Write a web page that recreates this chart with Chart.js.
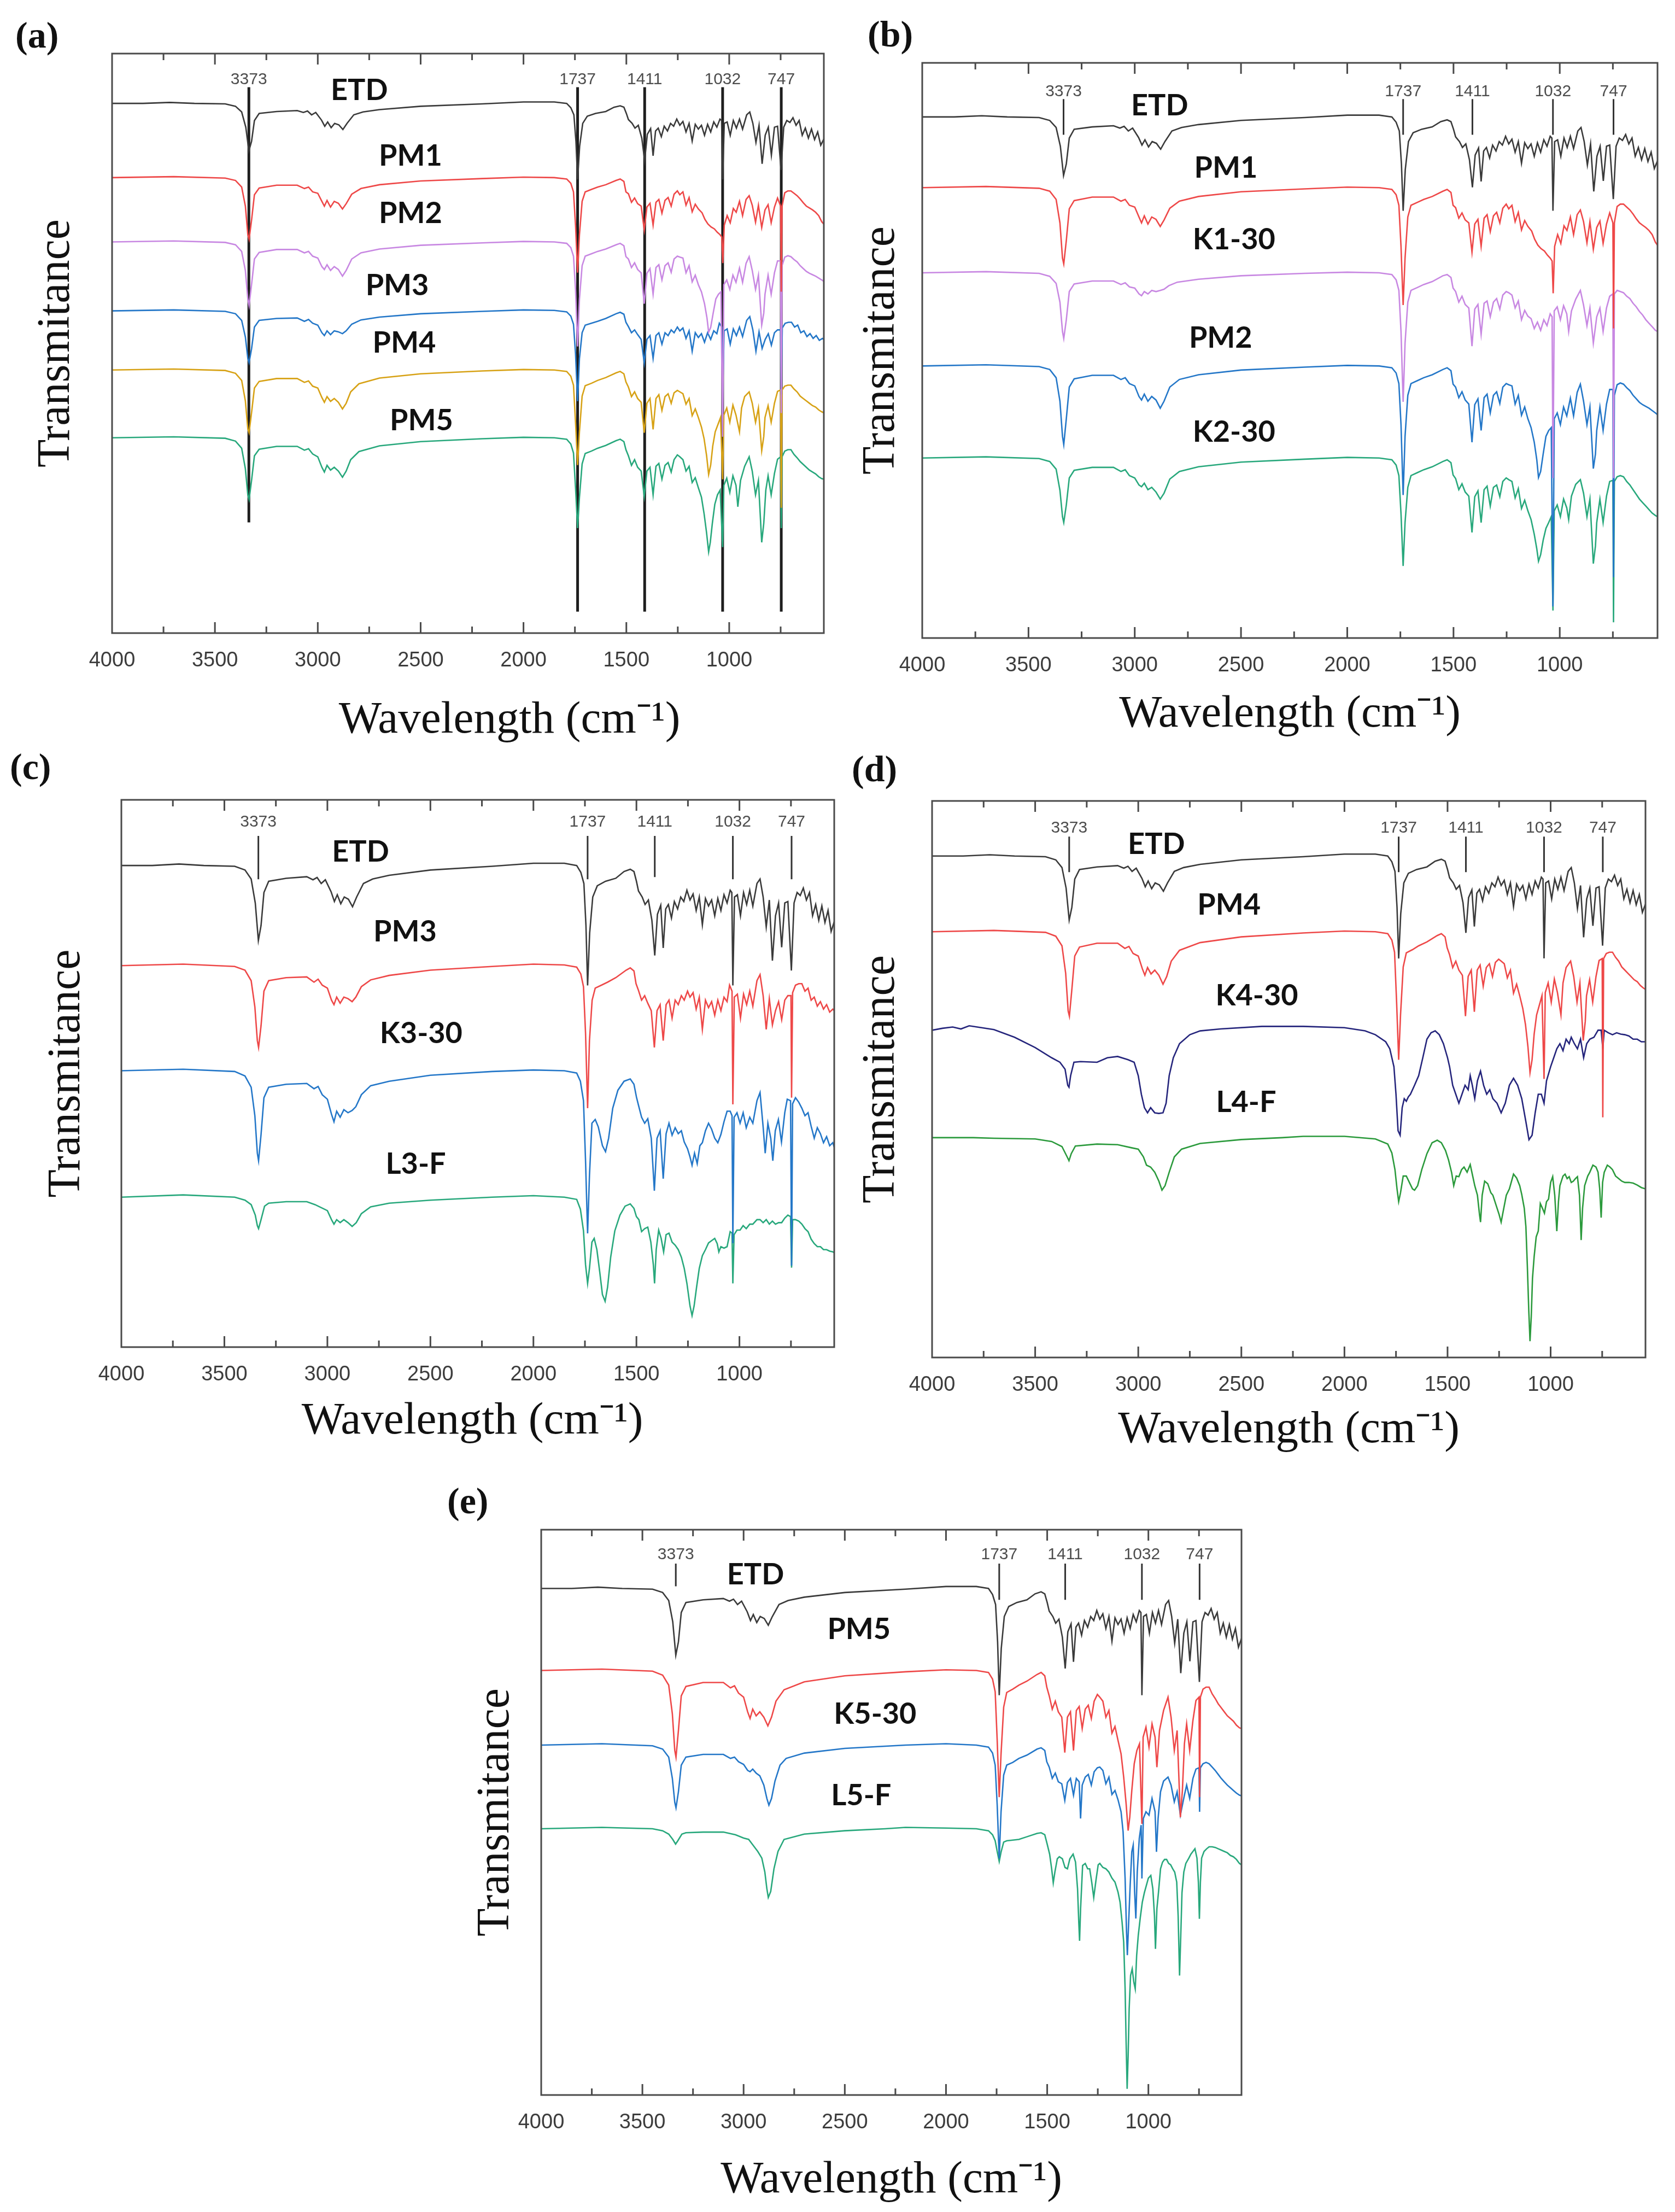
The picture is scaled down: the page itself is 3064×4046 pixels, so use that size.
<!DOCTYPE html>
<html><head><meta charset="utf-8">
<script src="https://cdn.jsdelivr.net/npm/chart.js@4.4.1/dist/chart.umd.min.js"></script>
<style>
html,body{margin:0;padding:0;background:#fff;}
body{width:3064px;height:4046px;position:relative;overflow:hidden;}
canvas{position:absolute;}
.plab{position:absolute;font:bold 68px "Liberation Serif",serif;color:#111;line-height:1;}
</style></head><body>
<div class="plab" style="left:28px;top:30px">(a)</div>
<div class="plab" style="left:1587px;top:28px">(b)</div>
<div class="plab" style="left:18px;top:1368px">(c)</div>
<div class="plab" style="left:1558px;top:1372px">(d)</div>
<div class="plab" style="left:818px;top:2711px">(e)</div>
<canvas id="ca"></canvas><canvas id="cb"></canvas><canvas id="cc"></canvas><canvas id="cd"></canvas><canvas id="ce"></canvas>
<script>
// ---------- axis values ----------
const xLabelTicks = [4000,3500,3000,2500,2000,1500,1000];
const majorTicks = [3500,3000,2500,2000,1500,1000];
const minorTicks = [3750,3250,2750,2250,1750,1250,750];
const markerWn = [3335,1737,1411,1032,747];
const markerText = ['3373','1737','1411','1032','747'];

// ---------- spectra: [wavenumber, depth below own baseline] ----------
const ETD = [[4000,0],[3850,0],[3720,-0.2],[3600,0],[3450,0.1],[3400,0.6],[3370,1.8],[3350,5],[3335,10],[3322,8],[3308,3.6],[3285,2.1],[3200,1.7],[3100,1.5],[3070,1.9],[3050,1.6],[3030,2.4],[3010,1.9],[2982,3.5],[2966,4.8],[2952,3.9],[2935,5.1],[2918,4.2],[2898,4.5],[2878,5.5],[2858,4.2],[2825,2.4],[2780,1.8],[2700,1.3],[2500,0.6],[2200,0.1],[2000,-0.3],[1850,-0.3],[1790,0],[1770,0.9],[1755,2.4],[1745,8],[1737,16],[1727,9],[1712,4.2],[1690,2.7],[1650,2.1],[1600,1.7],[1560,0.8],[1530,0.5],[1512,0.8],[1500,2.1],[1490,3.4],[1472,4.2],[1458,5.2],[1442,4.6],[1425,7.3],[1411,12],[1398,6.5],[1382,5.3],[1370,11],[1358,5.8],[1345,5.2],[1330,7],[1316,4.8],[1300,5.8],[1285,4.2],[1270,4.8],[1255,3.3],[1240,4.6],[1225,3.8],[1210,6],[1195,4.2],[1180,7.9],[1165,4.4],[1150,5.4],[1135,4.6],[1120,6.7],[1105,4.4],[1090,6],[1075,3.9],[1060,5],[1045,3.3],[1037,3.6],[1032,16],[1024,4.2],[1010,3.9],[995,6.7],[980,3.6],[965,5.2],[950,3.3],[935,5.4],[915,2.4],[900,1.8],[885,4.2],[870,8.2],[855,4.6],[840,12.7],[825,6.7],[810,5],[795,10.9],[780,5],[765,4.8],[748,14],[735,5],[720,3.6],[705,4],[690,3],[675,4.6],[660,3.6],[645,6.7],[630,5.2],[615,7.3],[600,5.4],[585,7.6],[570,6],[555,8.8],[540,7.5]];

const PM1 = [[4000,0],[3700,-0.2],[3450,0.1],[3400,0.6],[3370,2],[3352,6],[3340,12],[3334,13],[3322,9],[3308,3.6],[3285,2.2],[3200,1.6],[3100,1.6],[3065,2.3],[3045,2],[3025,3],[3000,3.3],[2980,5],[2968,6],[2955,4.8],[2938,6.2],[2920,5],[2900,5.4],[2880,6.6],[2862,5.5],[2835,3.5],[2790,2.3],[2700,1.5],[2500,0.7],[2200,0.2],[2000,-0.1],[1850,0],[1790,0.3],[1770,1.2],[1757,3],[1747,10],[1737,20],[1728,12],[1715,5],[1700,3],[1670,2.5],[1640,2],[1600,1.5],[1550,0.6],[1530,0.3],[1512,0.8],[1502,3],[1490,3.4],[1475,5.2],[1460,4.3],[1445,5.5],[1428,6],[1413,11],[1400,6.2],[1385,5.4],[1370,10],[1356,5.2],[1342,4.6],[1327,7.5],[1312,4.8],[1297,4.2],[1282,6],[1268,3.5],[1252,2.8],[1240,3.6],[1225,3],[1210,5.8],[1195,4.2],[1180,7.2],[1165,5.6],[1150,6.6],[1132,7.4],[1118,8.8],[1103,9.8],[1088,10.4],[1072,10.8],[1058,11.5],[1045,12],[1036,12.5],[1031,18],[1024,10],[1010,8],[995,9.5],[980,6.5],[966,7.3],[950,5],[935,8],[918,4.6],[903,3.8],[888,5.8],[872,9.4],[858,5.8],[842,10.5],[826,6.8],[811,5.7],[796,9.5],[780,6.2],[765,4.3],[750,6],[747,24],[743,6],[730,3.2],[715,2.8],[700,2.8],[685,3.3],[670,3.8],[655,4.5],[640,5.3],[625,6],[610,6.4],[595,6.8],[580,7.3],[565,8],[550,9.3],[540,9.8]];

const PM2 = [[4000,0],[3700,-0.2],[3450,0.1],[3400,0.6],[3370,2],[3352,6],[3340,12],[3334,13.4],[3322,9],[3308,3.6],[3285,2.2],[3200,1.6],[3100,1.6],[3065,2.3],[3045,2],[3025,3],[3000,3.4],[2980,5.2],[2968,5.8],[2955,4.8],[2938,6],[2920,5.2],[2900,5.8],[2880,7.2],[2862,6],[2835,3.6],[2790,2.3],[2700,1.5],[2500,0.7],[2200,0.2],[2000,-0.1],[1850,0],[1790,0.3],[1770,1.2],[1757,3],[1747,10],[1737,22],[1728,12],[1715,5],[1700,3],[1670,2.5],[1640,2],[1600,1.5],[1550,0.6],[1530,0.3],[1512,0.8],[1502,3.1],[1490,3.6],[1475,5.4],[1460,4.4],[1445,5.8],[1428,6.5],[1413,13],[1400,6.6],[1385,5.6],[1370,11],[1356,5.4],[1342,4.8],[1327,8],[1312,5],[1297,4.4],[1282,6.4],[1268,3.6],[1252,3],[1240,3.2],[1225,3.4],[1210,6.5],[1195,5],[1180,8.4],[1165,7],[1150,9],[1135,10.5],[1120,13],[1108,16],[1100,19],[1090,18],[1078,15],[1065,12],[1052,11],[1040,10.5],[1032,41],[1026,9],[1012,8],[997,10],[982,7],[967,8.5],[950,5.5],[935,8.5],[918,4.5],[903,3.1],[888,6],[872,10],[858,7],[842,17.5],[832,15],[826,11],[811,7],[796,11],[780,6.5],[765,4],[750,4],[747,36],[743,5],[730,3.2],[715,2.9],[700,3.1],[685,3.7],[670,4.2],[655,5],[640,5.6],[625,6.2],[610,6.6],[595,6.9],[580,7.2],[565,7.6],[550,8],[540,8.3]];

const PM3 = [[4000,0],[3700,-0.2],[3450,0.1],[3400,0.6],[3370,2],[3352,5.5],[3340,10],[3334,10.9],[3322,8],[3308,3.4],[3285,2],[3200,1.6],[3100,1.5],[3065,2.2],[3045,1.8],[3025,2.6],[3000,3],[2980,4.6],[2968,5.2],[2955,4.2],[2938,5],[2920,4.2],[2900,4.4],[2880,4.8],[2862,4.2],[2835,2.8],[2790,1.9],[2700,1.3],[2500,0.6],[2200,0.1],[2000,-0.2],[1850,-0.1],[1790,0.2],[1770,1.1],[1757,2.8],[1747,9],[1737,19],[1728,10],[1715,4.6],[1700,3],[1670,2.6],[1640,2.2],[1600,1.6],[1550,0.6],[1530,0.3],[1512,0.7],[1502,2.4],[1490,3.3],[1475,4.6],[1460,4],[1445,5],[1428,6],[1413,10.9],[1400,6],[1385,5.2],[1370,10],[1356,5.2],[1342,4.6],[1327,7],[1312,4.6],[1297,5.2],[1282,4],[1268,4.6],[1252,3.4],[1240,4.2],[1225,3.6],[1210,5.8],[1195,4.2],[1180,8.5],[1165,4.6],[1150,5.6],[1135,4.8],[1120,6.6],[1105,4.6],[1090,6],[1075,4.2],[1060,4.8],[1048,2.6],[1036,3.4],[1032,18.5],[1025,4.2],[1010,3.8],[995,7],[980,3.8],[965,5.2],[950,3.4],[935,5.4],[915,2],[900,1.2],[885,4],[870,8.5],[855,4.4],[840,7.9],[825,6],[810,4.8],[795,7.2],[780,4.6],[765,4],[750,4],[747,17.6],[742,3.6],[728,2.6],[712,2.4],[697,2.4],[682,3.4],[667,3],[652,4.6],[637,4.2],[622,5.4],[607,4.8],[592,5.8],[577,5.2],[562,6.2],[547,5.8],[540,6]];

const PM4 = [[4000,0],[3700,-0.2],[3450,0.1],[3400,0.7],[3370,2.2],[3352,6.5],[3340,12.4],[3334,13.2],[3322,9],[3308,3.8],[3285,2.4],[3200,1.8],[3100,1.8],[3065,2.6],[3045,2.3],[3025,3.4],[3000,3.8],[2980,5.8],[2968,6.8],[2955,5.6],[2938,6.6],[2920,6],[2900,6.8],[2880,8.2],[2862,7],[2840,4.6],[2800,2.9],[2700,1.7],[2500,0.8],[2200,0.2],[2000,-0.1],[1850,0],[1790,0.3],[1770,1.3],[1757,3.2],[1747,11],[1737,20],[1728,13],[1715,5.5],[1700,3.3],[1670,2.8],[1640,2.2],[1600,1.6],[1550,0.6],[1530,0.3],[1512,0.8],[1502,2.5],[1490,3.6],[1475,5.6],[1460,4.6],[1445,6],[1428,6.8],[1413,13.2],[1400,7],[1385,6],[1370,12.5],[1356,6],[1342,5.2],[1327,8.5],[1312,5.6],[1297,5],[1282,7],[1268,4.8],[1252,4.3],[1240,4.6],[1225,5],[1210,7.2],[1195,6],[1180,9.6],[1165,8.2],[1150,10],[1135,12],[1122,14.5],[1110,18],[1100,22],[1090,20],[1080,16],[1068,13],[1055,11.5],[1042,10],[1032,23],[1026,9.5],[1012,8],[997,11],[982,7.4],[967,9.5],[950,13],[940,8],[925,5.6],[903,4.6],[888,7],[872,11],[858,8],[842,17],[832,14],[826,10],[811,7.5],[796,11],[780,7],[765,4.5],[750,4.2],[747,29],[743,4.2],[730,3.4],[715,3.2],[700,3.2],[685,4],[670,4.6],[655,5.5],[640,6],[625,6.5],[610,7],[595,7.5],[580,7.8],[565,8.4],[550,8.8],[540,9]];

const PM5 = [[4000,0],[3700,-0.2],[3450,0.1],[3400,0.7],[3370,2.2],[3352,6.5],[3340,12],[3334,13],[3322,9],[3308,3.8],[3285,2.4],[3200,1.8],[3100,1.8],[3065,2.6],[3045,2.3],[3025,3.4],[3000,4],[2980,6.2],[2968,7.2],[2955,5.8],[2938,6.8],[2920,6.2],[2900,7],[2880,8.3],[2862,7],[2840,4.6],[2800,2.9],[2700,1.7],[2500,0.8],[2200,0.2],[2000,-0.1],[1850,0],[1790,0.3],[1770,1.3],[1757,3.2],[1747,10.5],[1737,19],[1728,12.5],[1715,5.5],[1700,3.3],[1670,2.8],[1640,2.2],[1600,1.6],[1550,0.6],[1530,0.3],[1512,0.8],[1502,2.5],[1490,3.8],[1475,5.8],[1460,4.6],[1445,6.2],[1428,7],[1413,12.3],[1400,7],[1385,6.2],[1370,12],[1356,6],[1342,5.4],[1327,8.7],[1312,5.8],[1297,5.2],[1282,7.2],[1268,4.6],[1252,3.6],[1240,4],[1225,4.6],[1210,7],[1195,6],[1180,9.4],[1165,8.4],[1150,10.5],[1135,12.5],[1122,16],[1110,20],[1100,24],[1092,22],[1082,18],[1070,14],[1057,12],[1044,11],[1032,23],[1026,10],[1012,8.5],[997,11.5],[982,8],[967,10],[958,14.5],[945,9],[925,6],[903,4],[888,7],[872,12],[858,9],[842,22],[832,18],[822,11],[811,8],[796,12],[780,7.5],[765,4.5],[750,4],[747,19],[743,4],[730,2.8],[715,2.5],[700,2.5],[685,3.5],[670,4.2],[655,5],[640,5.6],[625,6.2],[610,6.8],[595,7.2],[580,7.6],[565,8.2],[550,8.6],[540,8.7]];

const K1_30 = [[4000,0],[3700,-0.2],[3450,0.1],[3400,0.6],[3370,1.8],[3352,5],[3340,10],[3334,11.2],[3322,8],[3308,3.2],[3285,1.9],[3200,1.4],[3100,1.4],[3065,2],[3045,1.7],[3025,2.4],[3000,2.6],[2980,3.6],[2968,3.9],[2955,3.2],[2938,3.6],[2920,3],[2900,3.2],[2880,3],[2862,2.8],[2840,2.2],[2800,1.6],[2700,1.1],[2500,0.5],[2200,0.1],[2000,-0.1],[1850,0],[1790,0.3],[1770,1.2],[1757,3],[1747,10],[1737,22],[1728,12],[1715,5],[1700,3],[1670,2.5],[1640,2],[1600,1.5],[1550,0.5],[1530,0.3],[1512,0.8],[1502,2.6],[1490,3.2],[1475,5],[1460,4],[1445,5.4],[1428,6],[1413,12.5],[1400,6.2],[1385,5.4],[1370,10.5],[1356,5.2],[1342,4.8],[1327,7.5],[1312,5],[1297,4.4],[1282,6.2],[1268,3.8],[1252,3.2],[1240,3.4],[1225,3.8],[1210,6],[1195,4.8],[1180,8],[1165,6.4],[1150,7.4],[1135,7.8],[1120,9.5],[1105,8.4],[1090,9.8],[1075,8],[1060,9],[1045,7],[1036,7.5],[1032,35],[1026,6.5],[1012,5.8],[997,8],[982,5.6],[967,7],[958,10],[945,6.5],[925,4.5],[903,3],[888,5.5],[872,9],[858,6],[842,12],[826,7.5],[811,6],[796,10],[780,6],[765,4],[750,3.6],[747,35],[743,3.6],[730,3],[715,3.2],[700,3.4],[685,4],[670,4.4],[655,5.2],[640,5.8],[625,6.6],[610,7.2],[595,8],[580,8.6],[565,9.2],[550,9.8],[540,10]];

const K2_30 = [[4000,0],[3700,-0.2],[3450,0.1],[3400,0.6],[3370,1.9],[3352,5.5],[3340,10],[3334,11],[3322,8],[3308,3.4],[3285,2.1],[3200,1.6],[3100,1.6],[3065,2.3],[3045,2],[3025,3],[3000,3.4],[2980,4.6],[2968,4.9],[2955,4.3],[2938,5.4],[2920,5],[2900,5.8],[2880,7],[2862,6],[2835,3.6],[2790,2.3],[2700,1.5],[2500,0.7],[2200,0.2],[2000,-0.1],[1850,0],[1790,0.3],[1770,1.2],[1757,3],[1747,9.5],[1737,18.4],[1728,11],[1715,5],[1700,3],[1670,2.5],[1640,2],[1600,1.5],[1550,0.6],[1530,0.3],[1512,0.8],[1502,2.9],[1490,3.5],[1475,5.4],[1460,4.4],[1445,5.8],[1428,6.5],[1413,12.7],[1400,6.6],[1385,5.6],[1370,11],[1356,5.4],[1342,4.8],[1327,8.2],[1312,5],[1297,4.6],[1282,6.6],[1268,4],[1252,3.4],[1240,3.7],[1225,4],[1210,6.8],[1195,5.2],[1180,8.6],[1165,7.2],[1150,9],[1135,10.5],[1120,13],[1108,15.5],[1100,17.6],[1090,16.5],[1078,14],[1065,12],[1052,11],[1040,10],[1032,26],[1026,9],[1012,8],[997,10],[982,7],[967,8.5],[958,10.5],[945,6.5],[925,4.5],[903,3.7],[888,6],[872,10],[858,7],[842,18],[832,15],[826,11],[811,7],[796,11],[780,6.5],[765,4],[750,3.8],[747,28],[743,4],[730,3.2],[715,3],[700,3.2],[685,4],[670,4.6],[655,5.4],[640,6.2],[625,7],[610,7.6],[595,8.2],[580,8.8],[565,9.4],[550,9.8],[540,10]];

const K3_30 = [[4000,0],[3700,-0.2],[3450,0.1],[3400,0.7],[3370,2.2],[3352,6],[3340,11],[3334,12],[3322,8.5],[3308,3.6],[3285,2.2],[3200,1.8],[3100,1.7],[3065,2.4],[3045,2.1],[3025,3.2],[3000,3.8],[2980,5.8],[2968,6.8],[2955,5.4],[2938,6.2],[2920,5.2],[2900,5.6],[2880,5.3],[2862,4.8],[2835,3.2],[2790,2],[2700,1.4],[2500,0.6],[2200,0.1],[2000,-0.1],[1850,0],[1790,0.3],[1772,1.4],[1757,4],[1747,12],[1737,21.7],[1728,14],[1716,7],[1700,6.5],[1685,7.5],[1665,10],[1650,10.8],[1635,9],[1615,5],[1590,2.6],[1560,1.4],[1530,1.1],[1512,1.8],[1500,3.5],[1490,4.6],[1475,6.2],[1460,7],[1445,6.4],[1428,9],[1413,16],[1400,9],[1385,8],[1370,14.4],[1356,8.4],[1342,7],[1327,8.6],[1312,7.6],[1297,8.4],[1282,8],[1268,9.5],[1252,10.4],[1240,11.5],[1230,12.6],[1218,11],[1205,12.4],[1192,10],[1180,9.6],[1165,8],[1150,7],[1135,7.8],[1120,9],[1105,9.6],[1090,8.5],[1075,6.8],[1060,5.4],[1045,5.4],[1036,6],[1032,23],[1026,6.2],[1012,5.6],[997,7],[982,5.6],[967,7.6],[950,6.2],[935,7],[915,4],[900,2.9],[885,7.5],[875,11],[862,7],[848,9],[838,12],[826,8],[811,6.5],[796,9.5],[780,5.6],[768,3.8],[752,4],[747,26],[742,4.4],[728,3.6],[712,4.2],[697,5],[682,6],[667,5.6],[652,7.4],[637,9],[622,7.6],[607,8.4],[592,9.6],[577,8.8],[562,10],[547,9.6],[540,10.2]];

const L3_F = [[4000,0],[3700,-0.3],[3450,0],[3400,0.4],[3370,1],[3350,2.4],[3340,3.8],[3334,4.2],[3322,3],[3305,1.2],[3285,0.8],[3200,0.6],[3100,0.6],[3060,1],[3030,1.4],[3000,1.8],[2980,3],[2968,3.6],[2955,3],[2938,3.4],[2920,3],[2900,3.4],[2880,3.9],[2860,3.4],[2835,2.2],[2790,1.3],[2700,0.8],[2500,0.4],[2200,0],[2000,-0.2],[1850,0],[1790,0.3],[1772,1.6],[1757,4.5],[1747,9],[1737,11.5],[1728,9.5],[1716,6],[1705,5.5],[1692,7],[1678,10],[1665,13],[1652,13.9],[1640,12],[1625,8],[1605,4.5],[1580,2.4],[1555,1.2],[1530,0.9],[1512,1.5],[1500,2.6],[1488,3],[1475,4.6],[1460,4.2],[1445,4],[1430,6],[1418,9],[1412,11.5],[1404,7],[1392,4.4],[1380,5.5],[1368,7.3],[1356,5],[1342,4.8],[1327,6],[1312,6.4],[1297,7],[1282,8],[1268,9.5],[1255,11.5],[1240,14.5],[1230,15.8],[1220,14.5],[1208,12],[1195,9.5],[1180,7.8],[1165,7],[1150,6.1],[1135,5.8],[1120,5.5],[1108,6.2],[1100,7.3],[1090,6.6],[1075,6.8],[1060,6.6],[1045,4.6],[1036,4.8],[1032,11.5],[1026,5],[1012,4.4],[997,4.4],[982,3.8],[967,4.2],[950,3.6],[935,3.6],[915,3],[900,3],[885,3.4],[870,3],[855,3.6],[840,3.2],[825,3.6],[810,3.4],[795,3.4],[780,2.8],[765,2.4],[752,2.6],[747,9.4],[742,3],[728,3],[712,3.2],[697,3.6],[682,4.2],[667,4.6],[652,5.6],[637,6.2],[622,6.6],[607,6.6],[592,7],[577,7],[562,7.2],[547,7.3],[540,7.4]];

const K4_30 = [[4000,0],[3950,-0.3],[3900,-0.5],[3860,-0.2],[3820,-0.7],[3760,-0.4],[3700,-0.1],[3600,1.1],[3500,2.7],[3420,4.3],[3380,5],[3355,6.1],[3342,8.6],[3336,8.9],[3328,7.1],[3312,5],[3280,4.9],[3200,5],[3150,4.3],[3100,4.1],[3050,4.6],[3020,5],[3000,7.1],[2985,10],[2970,12.1],[2955,12.9],[2940,12.1],[2920,12.9],[2900,13],[2880,12.9],[2865,11.4],[2850,7.1],[2830,4.3],[2800,2.1],[2750,0.7],[2700,0.1],[2600,-0.2],[2400,-0.6],[2200,-0.6],[2000,-0.4],[1900,0.1],[1850,0.7],[1800,1.8],[1780,2.9],[1760,5.7],[1750,10],[1740,15.7],[1730,16.4],[1720,12.1],[1710,10.7],[1700,11.1],[1690,10.4],[1680,10],[1660,8.6],[1640,7.1],[1620,4.3],[1600,1.4],[1580,0.4],[1560,0.1],[1540,0.7],[1520,2.1],[1500,4.3],[1490,5.7],[1475,8.6],[1460,10],[1445,11.4],[1430,10],[1415,8.6],[1400,9.3],[1390,7.1],[1380,8.6],[1368,10.7],[1355,7.9],[1340,6.4],[1325,8.6],[1310,10],[1295,9.3],[1280,10.7],[1260,11.4],[1240,12.9],[1220,11.4],[1200,8.6],[1180,7.5],[1160,8.6],[1140,10.7],[1120,14.3],[1105,17.1],[1090,16.4],[1075,12.9],[1060,10],[1045,10],[1032,11.4],[1020,7.9],[1000,5.7],[985,4.3],[970,2.9],[955,2.1],[940,3.2],[925,1.4],[910,2.1],[900,1.1],[885,2.1],[870,2.9],[855,1.4],[840,4.3],[825,2.1],[810,1.4],[790,1.1],[770,0],[755,0],[747,2.9],[740,0],[720,0.4],[700,0.7],[680,0.4],[660,0.6],[640,0.7],[620,0.9],[600,1.4],[580,1.4],[560,1.8],[540,1.8]];

const L4_F = [[4000,0],[3800,0],[3700,0.1],[3500,0.2],[3420,0.6],[3370,1.4],[3345,3],[3336,3.6],[3325,2.5],[3305,1.3],[3200,1],[3100,1.1],[3030,1.6],[3000,1.8],[2975,3],[2960,4.3],[2940,4.6],[2920,5.4],[2900,6.8],[2885,8.2],[2870,7.5],[2850,5.4],[2825,3],[2790,1.8],[2700,0.9],[2500,0.3],[2300,0],[2200,-0.2],[2000,-0.2],[1850,0.2],[1790,1],[1770,2.4],[1755,5],[1745,8],[1737,10],[1728,8.6],[1715,6],[1700,6],[1685,7],[1670,8],[1660,8.2],[1645,7.5],[1625,5],[1600,2.5],[1575,0.8],[1550,0.4],[1530,0.8],[1510,2],[1495,3.5],[1480,5.5],[1470,7.5],[1458,6],[1445,6.1],[1432,5],[1420,4.6],[1405,5.4],[1390,4.2],[1378,6],[1368,7.5],[1355,9],[1345,12],[1340,13.2],[1332,9],[1320,6.8],[1305,7.2],[1290,8.6],[1280,9],[1265,10.5],[1250,12],[1240,13.2],[1230,11.5],[1215,9],[1200,8],[1180,5.7],[1165,6.3],[1150,7.5],[1140,8.9],[1128,11],[1120,13.9],[1113,20],[1106,27],[1100,31.8],[1094,28],[1088,22],[1080,18.6],[1070,15.5],[1060,14.6],[1050,10.3],[1040,11],[1030,11.8],[1020,10],[1010,9.6],[1000,7],[990,6.1],[980,9],[970,14.6],[962,10],[955,7.5],[940,6],[930,5.7],[920,6.4],[910,6.1],[900,7],[890,6.8],[880,6.4],[870,6.1],[860,9],[852,16],[845,11],[835,7.5],[820,6],[810,5.4],[795,4.3],[780,4.6],[770,5.4],[762,8],[755,12.5],[748,7],[740,5.4],[725,4.3],[712,4.6],[700,5],[685,6],[670,6.4],[655,6.8],[640,7],[620,7],[600,7.1],[580,7.4],[560,7.8],[540,8]];

const K5_30 = [[4000,0],[3700,-0.2],[3450,0.1],[3400,0.6],[3370,1.8],[3352,5],[3340,8.6],[3334,9.4],[3322,7],[3308,3],[3285,1.8],[3200,1.4],[3100,1.4],[3065,2],[3045,1.8],[3025,2.5],[3000,2.9],[2980,3.8],[2968,4],[2955,3.6],[2938,4.2],[2920,4.6],[2900,6],[2885,8],[2875,9],[2862,8],[2845,5.4],[2820,3],[2790,2],[2700,1.2],[2500,0.5],[2200,0],[2000,-0.2],[1850,0],[1790,0.3],[1770,1.2],[1757,3],[1747,9],[1737,17],[1728,10],[1715,4.5],[1700,3],[1670,2.6],[1640,2],[1600,1.5],[1550,0.6],[1530,0.4],[1512,0.8],[1502,2.5],[1490,3.3],[1475,5],[1460,4.2],[1445,5.5],[1428,5.8],[1413,8.3],[1400,5.6],[1385,5],[1370,7.5],[1356,5],[1342,5.5],[1335,11],[1327,6],[1312,4.8],[1297,4.4],[1282,6],[1268,4],[1252,3.4],[1240,3.3],[1225,3.8],[1210,5.8],[1195,4.8],[1180,7.4],[1165,6.8],[1150,8.2],[1135,10],[1125,13],[1115,20],[1108,28],[1104,31.5],[1098,27],[1090,21],[1082,16],[1075,15],[1068,22],[1062,26],[1055,19],[1045,14],[1036,12],[1032,20],[1025,11],[1012,10],[997,10.5],[982,8],[967,10],[960,16],[952,11],[940,7],[925,5.4],[903,4.8],[888,6],[872,8.5],[858,7],[842,10.5],[832,9],[822,7.5],[811,6],[796,8],[780,5],[765,3.6],[750,3.4],[747,10],[743,3.4],[730,2.8],[715,2.6],[700,2.8],[685,3.3],[670,3.8],[655,4.4],[640,5],[625,5.5],[610,6],[595,6.4],[580,6.8],[565,7.2],[550,7.5],[540,7.6]];

const L5_F = [[4000,0],[3700,-0.2],[3450,0],[3400,0.3],[3370,0.8],[3350,1.6],[3336,2.3],[3325,1.8],[3305,0.8],[3285,0.6],[3200,0.5],[3100,0.5],[3040,0.9],[3000,1.4],[2975,1.6],[2955,2.4],[2930,3.4],[2910,4.4],[2895,6.5],[2885,9],[2878,10.3],[2866,9.4],[2850,6],[2830,3.4],[2800,1.6],[2700,0.8],[2500,0.3],[2300,0],[2200,-0.2],[2000,-0.1],[1850,0],[1790,0.3],[1770,0.9],[1757,1.8],[1747,3.4],[1737,4.9],[1728,3.5],[1715,2],[1700,1.8],[1670,1.7],[1640,1.6],[1600,1.2],[1550,0.7],[1530,0.6],[1512,0.9],[1500,2.3],[1488,3.8],[1478,6],[1470,8.1],[1462,6.5],[1450,4.5],[1440,4.2],[1425,4.5],[1412,5.8],[1400,6],[1388,4.5],[1372,3.8],[1360,5],[1350,9],[1344,14],[1340,16.8],[1335,12],[1325,5.5],[1312,5.2],[1300,6],[1290,6],[1280,8],[1270,10.3],[1258,7.5],[1248,5.4],[1240,5.2],[1225,5.8],[1210,6],[1195,6.5],[1180,7.4],[1165,8],[1150,9.5],[1140,11],[1130,14],[1122,17],[1115,24],[1110,32],[1105,39],[1100,34],[1095,27],[1088,22],[1080,21],[1072,23],[1065,24],[1058,19],[1050,16],[1040,13.3],[1030,11],[1020,9.6],[1010,8.5],[1000,7.4],[988,7],[978,9],[970,13],[965,18],[958,12],[950,9.5],[940,6],[930,5],[920,4.6],[910,4.6],[900,5.2],[890,5.4],[880,6],[870,6.5],[860,8],[853,13],[846,22],[840,16],[834,9.6],[825,6.5],[815,5.2],[800,4.4],[790,3.8],[780,3.4],[770,3],[760,4.4],[753,8],[748,13.5],[743,8],[737,4.4],[725,3.4],[712,3],[700,2.7],[685,2.7],[670,2.8],[655,3],[640,3.2],[625,3.4],[610,3.6],[595,4],[580,4.2],[565,4.6],[550,5.2],[540,5.4]];

// ---------- series names per panel ----------
const namesA = ['ETD','PM1','PM2','PM3','PM4','PM5'];
const namesB = ['ETD','PM1','K1-30','PM2','K2-30'];
const namesC = ['ETD','PM3','K3-30','L3-F'];
const namesD = ['ETD','PM4','K4-30','L4-F'];
const namesE = ['ETD','PM5','K5-30','L5-F'];

// ---------- colours ----------
const C = {blk:'#3a3a3a', red:'#ee4848', pur:'#c888e2', blu:'#2477c8', yel:'#d7a216', grn:'#28a87c', gr2:'#2b9a3c', nav:'#25257c'};

// ---------- layout (placement, not data) ----------
const panels = [
 {id:'ca', box:[205,98,1507,1158], yOff:101, xGap:160, titleShift:76, k:0.82, mark:{w:5,c:'#1e1e1e',top:94.2,bot:[19.1,3.7,3.7,3.7,3.7]}, peakY:95.5,
  names:namesA, spectra:[ETD,PM1,PM2,PM3,PM4,PM5], colors:[C.blk,C.red,C.pur,C.blu,C.yel,C.grn], base:[91.4,78.6,67.5,55.6,45.4,33.7],
  labPos:[[2798,93.6],[2549,82.3],[2549,72.4],[2614,59.9],[2580,50],[2496,36.6]]},
 {id:'cb', box:[1687,115,3032,1167], yOff:74, xGap:140, titleShift:0, k:1.02, mark:{w:3,c:'#333',top:93.7,bot:[87.5,87.5,87.5,87.5,87.5]}, peakY:95,
  names:namesB, spectra:[ETD,PM1,K1_30,PM2,K2_30], colors:[C.blk,C.red,C.pur,C.blu,C.grn], base:[90.6,78.3,63.5,47.3,31.3],
  labPos:[[2883,92.5],[2571,81.7],[2533,69.2],[2596,52.1],[2533,35.8]]},
 {id:'cc', box:[222,1463,1526,2464], yOff:99, xGap:136, titleShift:-10, k:1.37, mark:{w:3,c:'#333',top:93.4,bot:[85.5,85.5,85.9,85.5,85.5]}, peakY:95.9,
  names:namesC, spectra:[ETD,PM3,K3_30,L3_F], colors:[C.blk,C.red,C.blu,C.grn], base:[88.0,69.7,50.5,27.4],
  labPos:[[2839,90.5],[2623,75.9],[2545,57.3],[2571,33.4]]},
 {id:'cd', box:[1705,1465,3010,2483], yOff:92, xGap:133, titleShift:0, k:1.15, mark:{w:3,c:'#333',top:93.6,bot:[87.2,87.2,87.2,87.2,87.2]}, peakY:95.1,
  names:namesD, spectra:[ETD,PM4,K4_30,L4_F], colors:[C.blk,C.red,C.nav,C.gr2], base:[90.1,76.5,58.8,39.5],
  labPos:[[2912,92.2],[2560,81.3],[2425,65],[2477,45.8]]},
 {id:'ce', box:[990,2798,2271,3832], yOff:82, xGap:156, titleShift:0, k:1.18, mark:{w:3,c:'#333',top:94,bot:[90,87.6,87.6,87.6,87.6]}, peakY:95.6,
  names:namesE, spectra:[ETD,PM5,K5_30,L5_F], colors:[C.blk,C.red,C.blu,C.grn], base:[89.6,75.1,61.9,47.1],
  labPos:[[2941,92],[2430,82.3],[2350,67.4],[2419,52.9]]}
];

const annotPlugin = {
  id:'annot',
  afterDraw(chart){
    const cfg = chart.options.plugins.annot;
    const {ctx, chartArea:a, scales:{x,y}} = chart;
    ctx.save();
    // frame and inner ticks
    ctx.strokeStyle='#4a4a4a'; ctx.lineWidth=3;
    ctx.strokeRect(a.left, a.top, a.right-a.left, a.bottom-a.top);
    ctx.beginPath();
    majorTicks.forEach(v=>{ const px=x.getPixelForValue(v);
      ctx.moveTo(px,a.bottom); ctx.lineTo(px,a.bottom-20);
      ctx.moveTo(px,a.top); ctx.lineTo(px,a.top+20); });
    minorTicks.forEach(v=>{ const px=x.getPixelForValue(v);
      ctx.moveTo(px,a.bottom); ctx.lineTo(px,a.bottom-12);
      ctx.moveTo(px,a.top); ctx.lineTo(px,a.top+12); });
    ctx.stroke();
    // peak labels
    ctx.fillStyle='#4d4d4d'; ctx.font='30px "Liberation Sans", Arial, sans-serif';
    ctx.textAlign='center'; ctx.textBaseline='middle';
    markerWn.forEach((w,i)=>ctx.fillText(markerText[i], x.getPixelForValue(w), y.getPixelForValue(cfg.peakY)));
    // series labels
    ctx.fillStyle='#111'; ctx.font='bold 54px Lato, "Open Sans", sans-serif';
    cfg.names.forEach((n,i)=>ctx.fillText(n, x.getPixelForValue(cfg.labPos[i][0]), y.getPixelForValue(cfg.labPos[i][1])));
    // x-axis title
    ctx.fillStyle='#111'; ctx.font='83px "Liberation Serif", serif'; ctx.textBaseline='middle';
    ctx.fillText('Wavelength (cm\u207B\u00B9)', (a.left+a.right)/2 + cfg.titleShift, a.bottom + cfg.xGap);
    ctx.restore();
  }
};

function build(p){
  const [L,T,R,B] = p.box;
  const padTop=14, padR=14;
  const W = p.yOff + 50;
  const Hx = p.xGap + 60;
  const cv = document.getElementById(p.id);
  cv.width = W + (R-L) + padR;
  cv.height = padTop + (B-T) + Hx;
  cv.style.left = (L - W) + 'px';
  cv.style.top = (T - padTop) + 'px';
  const datasets = p.spectra.map((s,i)=>({
    label:p.names[i],
    data:s.map(q=>({x:q[0], y:p.base[i]-q[1]*p.k})),
    borderColor:p.colors[i], borderWidth:2.6, pointRadius:0, tension:0, fill:false
  }));
  markerWn.forEach((w,i)=>datasets.push({
    label:'m'+i, data:[{x:w,y:p.mark.top},{x:w,y:p.mark.bot[i]}],
    borderColor:p.mark.c, borderWidth:p.mark.w, pointRadius:0, fill:false
  }));
  new Chart(cv, {
    type:'line',
    data:{datasets},
    options:{
      responsive:false, animation:false, devicePixelRatio:1,
      layout:{padding:{left:0,top:padTop,right:padR,bottom:0}},
      plugins:{legend:{display:false}, tooltip:{enabled:false},
        annot:{names:p.names, labPos:p.labPos, peakY:p.peakY, xGap:p.xGap, titleShift:p.titleShift}},
      scales:{
        x:{type:'linear', reverse:true, min:540, max:4000,
           afterBuildTicks:s=>{ s.ticks = xLabelTicks.map(v=>({value:v})); },
           afterFit:s=>{ s.height = Hx; },
           grid:{display:false, drawTicks:false}, border:{display:false},
           ticks:{padding:28, color:'#3d3d3d', font:{family:'"Liberation Sans", Arial, sans-serif', size:38}, maxRotation:0, autoSkip:false, callback:v=>String(v)},
           title:{display:false}},
        y:{min:0, max:100, afterFit:s=>{ s.width = W; },
           grid:{display:false, drawTicks:false}, border:{display:false}, ticks:{display:false},
           title:{display:true, text:'Transmitance', color:'#111', padding:{top:0,bottom:0}, font:{family:'"Liberation Serif", serif', size:84}}}
      }
    },
    plugins:[annotPlugin]
  });
}

const ready = document.fonts ? Promise.all([
  document.fonts.load('bold 54px Lato'), document.fonts.load('84px "Liberation Serif"'), document.fonts.load('38px "Liberation Sans"')
]).catch(()=>{}) : Promise.resolve();
ready.then(()=>panels.forEach(build));
</script>
</body></html>
